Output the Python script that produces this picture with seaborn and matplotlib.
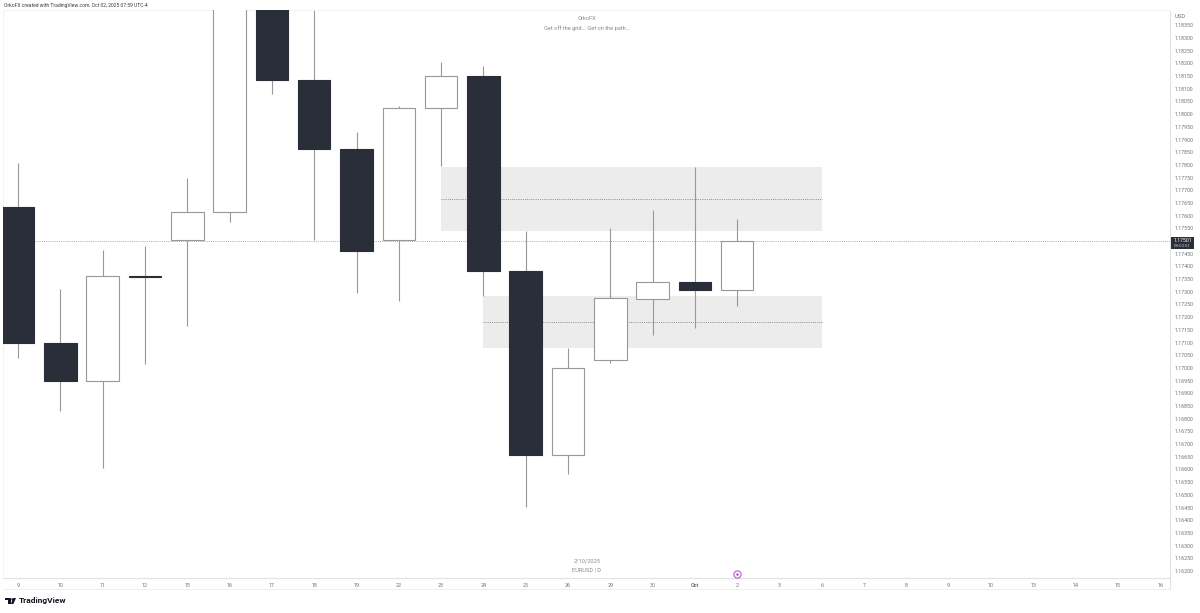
import numpy as np
import pandas as pd
import matplotlib
matplotlib.use('Agg')
import matplotlib.pyplot as plt
from matplotlib.patches import Polygon, Rectangle
import seaborn as sns

# EURUSD daily candles
days = ['9', '10', '11', '12', '15', '16', '17', '18', '19', '22', '23', '24',
        '25', '26', '29', '30', 'Oct', '2']
opens = [1.17634, 1.17098, 1.16949, 1.17362, 1.17504, 1.17614, 1.18530, 1.18135, 1.17863,
         1.17504, 1.18024, 1.18150, 1.17382, 1.16657, 1.17031, 1.17272, 1.17339, 1.17307]
closes = [1.17098, 1.16949, 1.17362, 1.17358, 1.17614, 1.18530, 1.18135, 1.17863, 1.17461,
          1.18024, 1.18150, 1.17382, 1.16657, 1.17000, 1.17276, 1.17339, 1.17307, 1.17501]
highs = [1.17808, 1.17311, 1.17465, 1.17480, 1.17748, 1.18600, 1.18600, 1.18500, 1.17930,
         1.18032, 1.18205, 1.18190, 1.17540, 1.17079, 1.17551, 1.17622, 1.17792, 1.17587]
lows = [1.17039, 1.16830, 1.16606, 1.17016, 1.17165, 1.17575, 1.18079, 1.17504, 1.17295,
        1.17264, 1.17796, 1.17283, 1.16452, 1.16582, 1.17020, 1.17130, 1.17157, 1.17244]

# empty days to the right of the last candle
future_days = ['3', '6', '7', '8', '9', '10', '13', '14', '15', '16']
price_ticks = [1.162 + 0.0005 * i for i in range(44)]

last_price = 1.17501
# zones: first day index, last day index, top, middle, bottom
zone_upper = [10, 19, 1.17792, 1.17666, 1.17540]
zone_lower = [11, 19, 1.17283, 1.17181, 1.17079]

W, H = 1200, 613
DARK = '#2a2e39'
GREY = '#6f7278'
EDGE = '#97989c'

sns.set_theme(style='white')
plt.rcParams['font.family'] = ['Roboto', 'DejaVu Sans']

df = pd.DataFrame({'day': days, 'open': opens, 'close': closes, 'high': highs, 'low': lows})
df['pos'] = np.arange(len(df))
df['bottom'] = df[['open', 'close']].min(axis=1)
df['size'] = (df['close'] - df['open']).abs()
df['up'] = df['close'] > df['open']

fig = plt.figure(figsize=(W / 100, H / 100), dpi=100, facecolor='white')
ax = fig.add_axes([3 / W, 1 - 578 / H, (1170 - 3) / W, (578 - 10) / H])

# wicks
ax.vlines(df['pos'], df['low'], df['high'], color=EDGE, lw=0.8, zorder=2)

# bodies
for up, colour, edge in [(True, 'white', EDGE), (False, DARK, DARK)]:
    part = df[df['up'] == up]
    sns.barplot(data=part, x='pos', y='size', bottom=part['bottom'].values, native_scale=True,
                width=0.77, color=colour, saturation=1, edgecolor=edge, linewidth=0.8,
                zorder=3, ax=ax)

# zones and their mid lines
for first, last, top, mid, bottom in [zone_upper, zone_lower]:
    ax.fill_between([first, last], bottom, top, color='#ececec', lw=0, zorder=1)
    ax.plot([first, last], [mid, mid], color='#8c8c8c', lw=0.7, ls=(0, (1, 1.2)), zorder=1.5)

ax.axhline(last_price, color='#a9abb0', lw=0.7, ls=(0, (1, 1.2)), zorder=1.5)

# scales: one day is 42.3 px, 0.0005 is 12.69 px
ax.set_xlim((3 - 18.1) / 42.3, (1170 - 18.1) / 42.3)
ax.set_ylim(1.183 - (578 - 38) * 0.0005 / 12.69, 1.183 + 28 * 0.0005 / 12.69)

all_days = days + future_days
ax.set_xticks(range(len(all_days)))
ax.set_xticklabels(all_days, fontsize=3.9, color=GREY)
ax.get_xticklabels()[days.index('Oct')].set_fontweight('bold')
ax.set_xlabel('')
ax.set_ylabel('')
ax.yaxis.tick_right()
ax.set_yticks(price_ticks)
ax.set_yticklabels([f'{p:.5f}' for p in price_ticks], fontsize=3.8, color=GREY)
ax.tick_params(axis='x', length=0, pad=3.8)
ax.tick_params(axis='y', length=0, pad=3.2)
for side in ['bottom', 'right']:
    ax.spines[side].set_color('#e2e2e2')
    ax.spines[side].set_linewidth(0.8)
ax.spines['top'].set_color('#f3f3f3')
ax.spines['top'].set_linewidth(0.7)
ax.spines['left'].set_color('#f3f3f3')
ax.spines['left'].set_linewidth(0.7)


def px(x, y):
    return x / W, 1 - y / H


# frame under the date axis and on the right of it
fig.add_artist(plt.Line2D([3 / W, 1170 / W], [1 - 589 / H] * 2, color='#eeeeee', lw=0.7))
fig.add_artist(plt.Line2D([1170 / W] * 2, [1 - 589 / H, 1 - 578 / H], color='#e2e2e2', lw=0.8))

# last price tag
fig.add_artist(Rectangle(px(1171, 249), 23 / W, 12 / H, color=DARK, lw=0))
fig.text(*px(1182.5, 240.4), '1.17501', fontsize=3.7, color='white', ha='center', va='center')
fig.text(*px(1182.5, 245.6), '09:00:51', fontsize=3.2, color='#c8c9cc', ha='center', va='center')

# header, watermark and footer texts
fig.text(*px(4, 5.5), 'OrkoFX created with TradingView.com, Oct 02, 2025 07:59 UTC-4',
         fontsize=3.65, color='#3c3c3c', va='center')
fig.text(*px(1175, 17), 'USD', fontsize=4.2, color=GREY, va='center')
fig.text(*px(587, 18.5), 'OrkoFX', fontsize=4.1, color='#8a8a8a', ha='center', va='center')
fig.text(*px(587, 28), 'Get off the grid... Get on the path...', fontsize=4.1, color='#8a8a8a',
         ha='center', va='center')
fig.text(*px(587, 561), '2/10/2025', fontsize=4.1, color='#8a8a8a', ha='center', va='center')
fig.text(*px(587, 570), 'EURUSD | D', fontsize=4.1, color='#8a8a8a', ha='center', va='center')
fig.text(*px(19, 601), 'TradingView', fontsize=6.0, fontweight='bold', color='#131722', va='center')

# purple event marker above the "2" tick
fig.add_artist(plt.Line2D([737 / W], [1 - 574 / H], marker='o', ms=5.2, mfc='white', mec='#ab47bc',
                          mew=0.7, zorder=5))
fig.add_artist(plt.Line2D([737 / W], [1 - 574 / H], marker='o', ms=1.8, mfc='#ab47bc', mew=0, zorder=5))

# TradingView logo
fig.add_artist(Polygon([px(5, 598), px(10.5, 598), px(10.5, 604), px(8, 604), px(8, 600.4), px(5, 600.4)],
                       fc='#131722', lw=0))
fig.add_artist(plt.Line2D([11.9 / W], [1 - 599.2 / H], marker='o', ms=1.7, mfc='#131722', mew=0))
fig.add_artist(Polygon([px(13.3, 598), px(16, 598), px(13.4, 604), px(10.8, 604)], fc='#131722', lw=0))

fig.savefig('out.png', dpi=100)
